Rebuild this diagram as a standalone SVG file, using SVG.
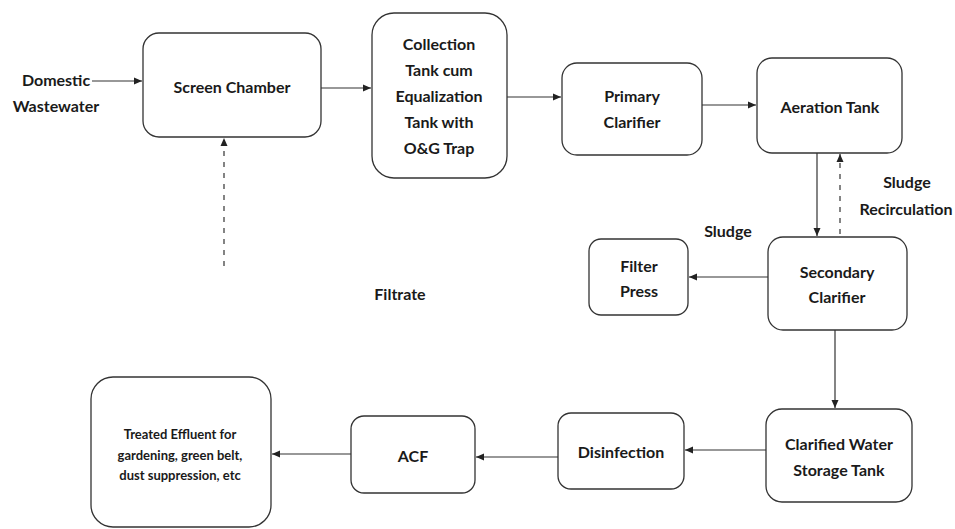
<svg xmlns="http://www.w3.org/2000/svg" width="955" height="529" viewBox="0 0 955 529">
<defs>
<marker id="ah" markerUnits="userSpaceOnUse" markerWidth="9" markerHeight="8" refX="8" refY="4" orient="auto">
<path d="M0,0.5 L8,4 L0,7.5 z" fill="#222"/>
</marker>
<style>
.box{fill:#fff;stroke:#333;stroke-width:1.3}
.t{font-family:Lato,"Liberation Sans",sans-serif;font-weight:bold;font-size:16px;fill:#1a1a1a;text-anchor:middle}
.s{font-size:13px}
.c{fill:none;stroke:#333;stroke-width:1.2}
.d{stroke-dasharray:5 6}
</style>
</defs>
<rect width="955" height="529" fill="#fff"/>

<g id="domestic-wastewater">
<text class="t" x="56" y="86">Domestic</text>
<text class="t" x="56" y="112">Wastewater</text>
</g>
<g id="screen-chamber">
<rect class="box" x="143" y="33" width="178" height="104" rx="16"/>
<text class="t" x="232" y="93">Screen Chamber</text>
</g>
<g id="collection-tank">
<rect class="box" x="372" y="13" width="135" height="165" rx="22"/>
<text class="t" x="439" y="50">Collection</text>
<text class="t" x="439" y="76">Tank cum</text>
<text class="t" x="439" y="102">Equalization</text>
<text class="t" x="439" y="128">Tank with</text>
<text class="t" x="439" y="154">O&amp;G Trap</text>
</g>
<g id="primary-clarifier">
<rect class="box" x="562" y="63" width="140" height="92" rx="15"/>
<text class="t" x="632" y="102">Primary</text>
<text class="t" x="632" y="128">Clarifier</text>
</g>
<g id="aeration-tank">
<rect class="box" x="757" y="58" width="145" height="95" rx="15"/>
<text class="t" x="830" y="113">Aeration Tank</text>
</g>
<g id="secondary-clarifier">
<rect class="box" x="768" y="237" width="139" height="93" rx="15"/>
<text class="t" x="837" y="278">Secondary</text>
<text class="t" x="837" y="303">Clarifier</text>
</g>
<g id="filter-press">
<rect class="box" x="589" y="239" width="99" height="76" rx="12"/>
<text class="t" x="639" y="272">Filter</text>
<text class="t" x="639" y="297">Press</text>
</g>
<g id="clarified-water-storage-tank">
<rect class="box" x="766" y="409" width="146" height="93" rx="16"/>
<text class="t" x="839" y="450">Clarified Water</text>
<text class="t" x="839" y="476">Storage Tank</text>
</g>
<g id="disinfection">
<rect class="box" x="558" y="413" width="126" height="76" rx="13"/>
<text class="t" x="621" y="458">Disinfection</text>
</g>
<g id="acf">
<rect class="box" x="351" y="416" width="124" height="77" rx="13"/>
<text class="t" x="413" y="462">ACF</text>
</g>
<g id="treated-effluent">
<rect class="box" x="91" y="377" width="180" height="150" rx="22"/>
<text class="t s" x="180" y="439">Treated Effluent for</text>
<text class="t s" x="180" y="460">gardening, green belt,</text>
<text class="t s" x="180" y="480">dust suppression, etc</text>
</g>

<g id="labels">
<text class="t" x="907" y="188">Sludge</text>
<text class="t" x="906" y="215">Recirculation</text>
<text class="t" x="728" y="237">Sludge</text>
<text class="t" x="400" y="300">Filtrate</text>
</g>

<g id="connectors">
<line class="c" x1="92" y1="81" x2="142" y2="81" marker-end="url(#ah)"/>
<line class="c" x1="321" y1="88" x2="371" y2="88" marker-end="url(#ah)"/>
<line class="c" x1="507" y1="97" x2="561" y2="97" marker-end="url(#ah)"/>
<line class="c" x1="702" y1="105" x2="756" y2="105" marker-end="url(#ah)"/>
<line class="c" x1="817" y1="153" x2="817" y2="236" marker-end="url(#ah)"/>
<line class="c d" x1="840" y1="234" x2="840" y2="154" marker-end="url(#ah)"/>
<line class="c" x1="768" y1="277" x2="689" y2="277" marker-end="url(#ah)"/>
<line class="c" x1="835" y1="330" x2="835" y2="408" marker-end="url(#ah)"/>
<line class="c" x1="766" y1="450" x2="685" y2="450" marker-end="url(#ah)"/>
<line class="c" x1="558" y1="457" x2="476" y2="457" marker-end="url(#ah)"/>
<line class="c" x1="351" y1="454" x2="272" y2="454" marker-end="url(#ah)"/>
<line class="c d" x1="224" y1="266" x2="224" y2="138" marker-end="url(#ah)"/>
</g>
</svg>
